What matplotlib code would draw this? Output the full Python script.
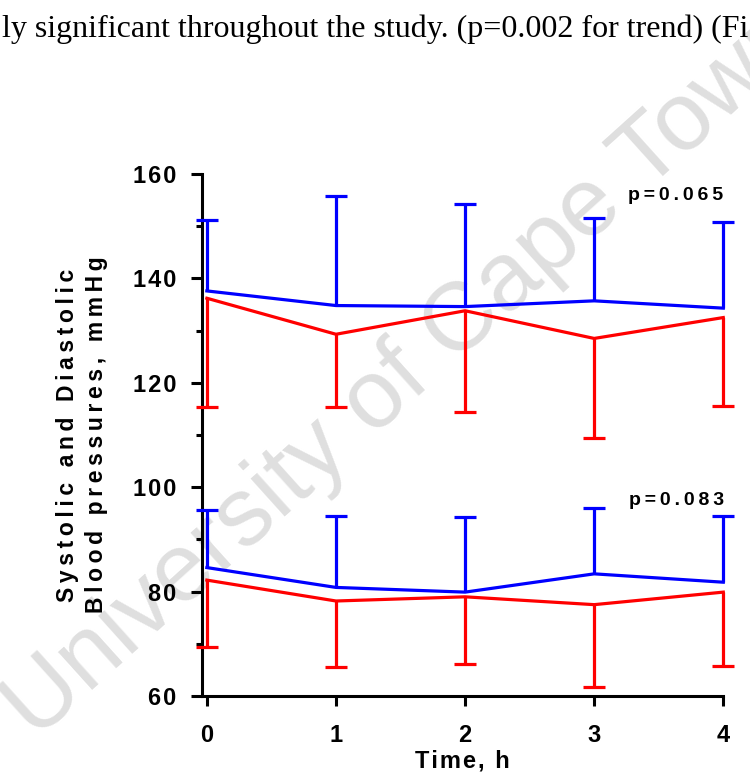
'''
Systolic / diastolic blood pressure over time, two groups, one-sided SD bars.
'''

# third party imports
import matplotlib.pyplot as plt
from matplotlib.ticker import MultipleLocator

plt.rcParams['font.family'] = ['Liberation Sans', 'DejaVu Sans']

# time points, hours
hours = [0, 1, 2, 3, 4]

# systolic means and SD
sys_blue = [137.6, 134.8, 134.6, 135.7, 134.3]
sys_blue_sd = [13.5, 21.0, 19.6, 15.9, 16.6]
sys_red = [136.2, 129.3, 133.8, 128.5, 132.5]
sys_red_sd = [20.8, 13.9, 19.3, 19.0, 16.9]

# diastolic means and SD
dia_blue = [84.6, 80.8, 79.9, 83.4, 81.8]
dia_blue_sd = [11.0, 13.6, 14.3, 12.7, 12.6]
dia_red = [82.2, 78.2, 79.0, 77.5, 79.9]
dia_red_sd = [12.9, 12.6, 12.9, 15.7, 14.1]

y_ticks = [60, 80, 100, 120, 140, 160]
p_labels = ['p=0.065', 'p=0.083']
p_pos = [(3.26, 155.8), (3.27, 97.4)]


def spaced(s, sep='\u200a'):
    # graphpad style wide letter spacing
    return sep.join(s)


def draw_series(ax, means, sds, color, up):
    ax.plot(hours, means, color=color, lw=2.3, clip_on=False, zorder=3)
    ends = [m + s if up else m - s for m, s in zip(means, sds)]
    ax.vlines(hours, means, ends, color=color, lw=2.3, clip_on=False, zorder=3)
    ax.plot(hours, ends, ls='none', marker='_', ms=16.5, mew=2.3,
            color=color, clip_on=False, zorder=3)


fig = plt.figure(figsize=(7.5, 7.82), dpi=100)

# text line from the page above the figure
fig.text(0.003, 1 - 29 / 782, 'ly significant throughout the study. (p=0.002 for trend) (Fi',
         family='Liberation Serif', fontsize=23, va='center', ha='left')

# watermark
fig.text(408 / 750, 1 - 372 / 782, 'University of Cape Town', fontsize=70,
         color='#dfdfdf', rotation=42, ha='center', va='center',
         rotation_mode='anchor', zorder=-1)

ax = fig.add_axes([201.7 / 750, 1 - 696 / 782, 521.6 / 750, 522 / 782])
ax.patch.set_visible(False)

draw_series(ax, sys_blue, sys_blue_sd, '#0000ff', True)
draw_series(ax, sys_red, sys_red_sd, '#ff0000', False)
draw_series(ax, dia_blue, dia_blue_sd, '#0000ff', True)
draw_series(ax, dia_red, dia_red_sd, '#ff0000', False)

for lab, (px, py) in zip(p_labels, p_pos):
    ax.text(px, py, spaced(lab, '\u2009'), fontsize=14, fontweight='bold',
            ha='left', va='center')

ax.set_xlim(-0.04, 4)
ax.set_ylim(60, 160)
ax.set_xticks(hours, labels=[spaced(str(h)) for h in hours])
ax.set_yticks(y_ticks, labels=[spaced(str(t)) for t in y_ticks])
ax.yaxis.set_minor_locator(MultipleLocator(10))

for side in ['top', 'right']:
    ax.spines[side].set_visible(False)
for side in ['left', 'bottom']:
    ax.spines[side].set_linewidth(2.2)

ax.tick_params(axis='y', which='major', length=8, width=2.2, pad=10,
               labelsize=17)
ax.tick_params(axis='y', which='minor', length=4, width=2.2)
ax.tick_params(axis='x', length=7, width=2.2, pad=13, labelsize=17)
for t in ax.get_xticklabels() + ax.get_yticklabels():
    t.set_fontweight('bold')

ax.set_xlabel(spaced('Time, h'), fontsize=17, fontweight='bold', labelpad=2)
ax.set_ylabel(spaced('Systolic and Diastolic', '\u2009') + '\n'
              + spaced('Blood pressures, mmHg', '\u2009'),
              fontsize=16.5, fontweight='bold', linespacing=1.35)
ax.yaxis.set_label_coords(-0.18, 0.5)

plt.savefig('out.png', dpi=100)
